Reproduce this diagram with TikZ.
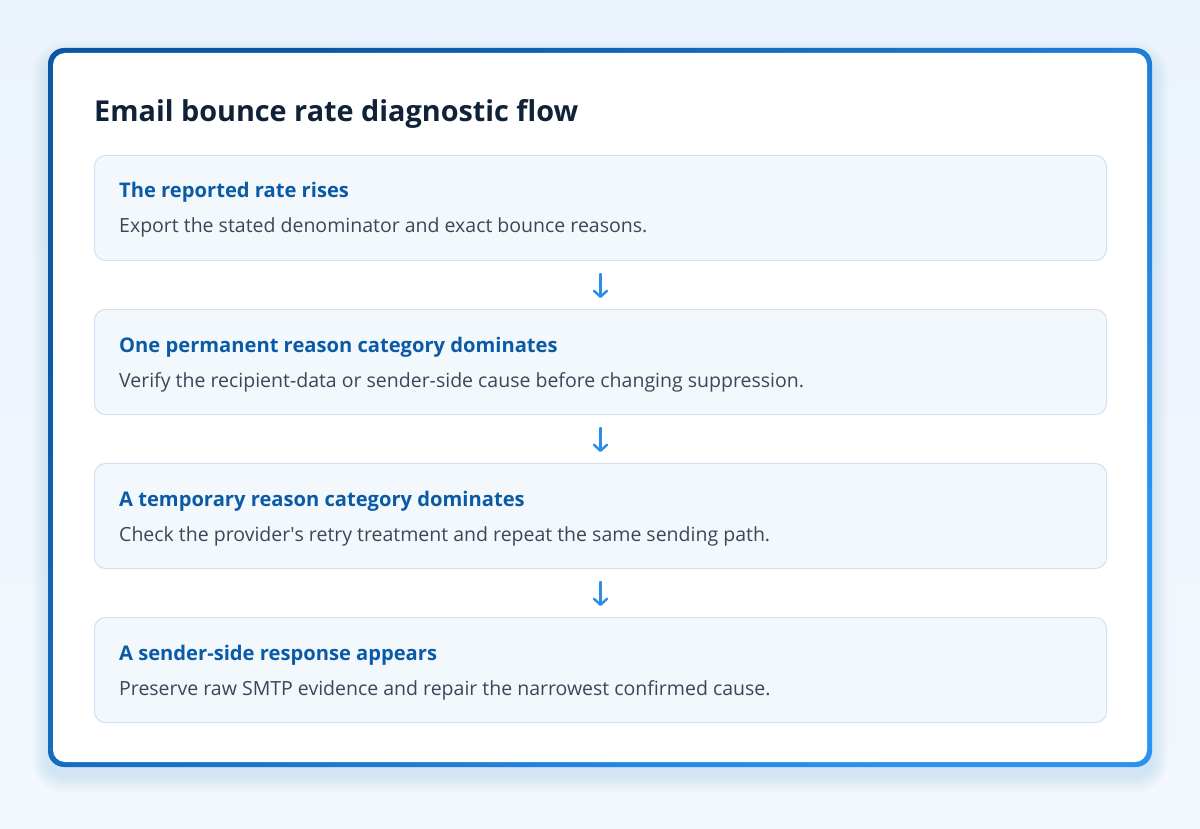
\documentclass[tikz,border=0pt]{standalone}
\usepackage{fontspec}
\setmainfont{Open Sans}
\usetikzlibrary{arrows.meta}
\definecolor{bgA}{HTML}{EBF3FC}
\definecolor{bgB}{HTML}{F3F8FE}
\definecolor{titlec}{HTML}{0F2237}
\definecolor{headc}{HTML}{0B5AA6}
\definecolor{bodyc}{HTML}{3B4658}
\definecolor{boxfill}{HTML}{F3F8FD}
\definecolor{boxline}{HTML}{D0E1F3}
\definecolor{arrc}{HTML}{2B8DE6}
\definecolor{borderA}{HTML}{0B57A4}
\definecolor{borderB}{HTML}{2A92F2}
\definecolor{shadowc}{HTML}{B5D4F4}
\tikzset{
  stepcard/.style={draw=boxline, line width=1pt, fill=boxfill, rounded corners=11pt,
    minimum width=1012pt, minimum height=105pt, anchor=north west, inner sep=0pt},
  headtxt/.style={anchor=base west, inner sep=0pt, text=headc, font=\fontsize{20.15}{24}\selectfont\bfseries},
  bodytxt/.style={anchor=base west, inner sep=0pt, text=bodyc, font=\fontsize{19.5}{23}\selectfont},
  flowarrow/.style={draw=arrc, line width=2.4pt, shorten <=13pt, shorten >=11pt,
    -{Straight Barb[length=6pt, width=13pt, line width=2.4pt, round]}, line cap=round},
}
\begin{document}
\begin{tikzpicture}[x=1pt, y=-1pt]
\useasboundingbox (0,0) rectangle (1200,829);
\shade[top color=bgA, bottom color=bgB] (0,0) rectangle (1200,829);
% soft shadow
\foreach \i in {1,...,16}{
  \fill[shadowc, opacity=0.03, rounded corners=16pt+\i pt]
    (48-\i,58-\i) rectangle (1152+\i,776+\i);
}
% card border (gradient) and body
\shade[top color=borderA, bottom color=borderB, shading angle=45, rounded corners=16pt]
  (48,48) rectangle (1152,767);
\fill[white, rounded corners=12pt] (53,53) rectangle (1147,762);
\node[anchor=base west, inner sep=0pt, text=titlec, font=\fontsize{28.8}{34}\selectfont\bfseries] (title) at (94,122) {Email bounce rate diagnostic flow};
% steps
\node[stepcard] (b1) at (94,155) {};
\node[stepcard] (b2) at (94,309) {};
\node[stepcard] (b3) at (94,463) {};
\node[stepcard] (b4) at (94,617) {};
\node[headtxt] (h1) at (119,198) {The reported rate rises};
\node[bodytxt] (t1) at (119,233) {Export the stated denominator and exact bounce reasons.};
\node[headtxt] (h2) at (119,352) {One permanent reason category dominates};
\node[bodytxt] (t2) at (119,387) {Verify the recipient-data or sender-side cause before changing suppression.};
\node[headtxt] (h3) at (119,506) {A temporary reason category dominates};
\node[bodytxt] (t3) at (119,541) {Check the provider\textquotesingle s retry treatment and repeat the same sending path.};
\node[headtxt] (h4) at (119,660) {A sender-side response appears};
\node[bodytxt] (t4) at (119,695) {Preserve raw SMTP evidence and repair the narrowest confirmed cause.};
\draw[flowarrow] (b1.south) -- (b2.north);
\draw[flowarrow] (b2.south) -- (b3.north);
\draw[flowarrow] (b3.south) -- (b4.north);
\end{tikzpicture}
\end{document}
